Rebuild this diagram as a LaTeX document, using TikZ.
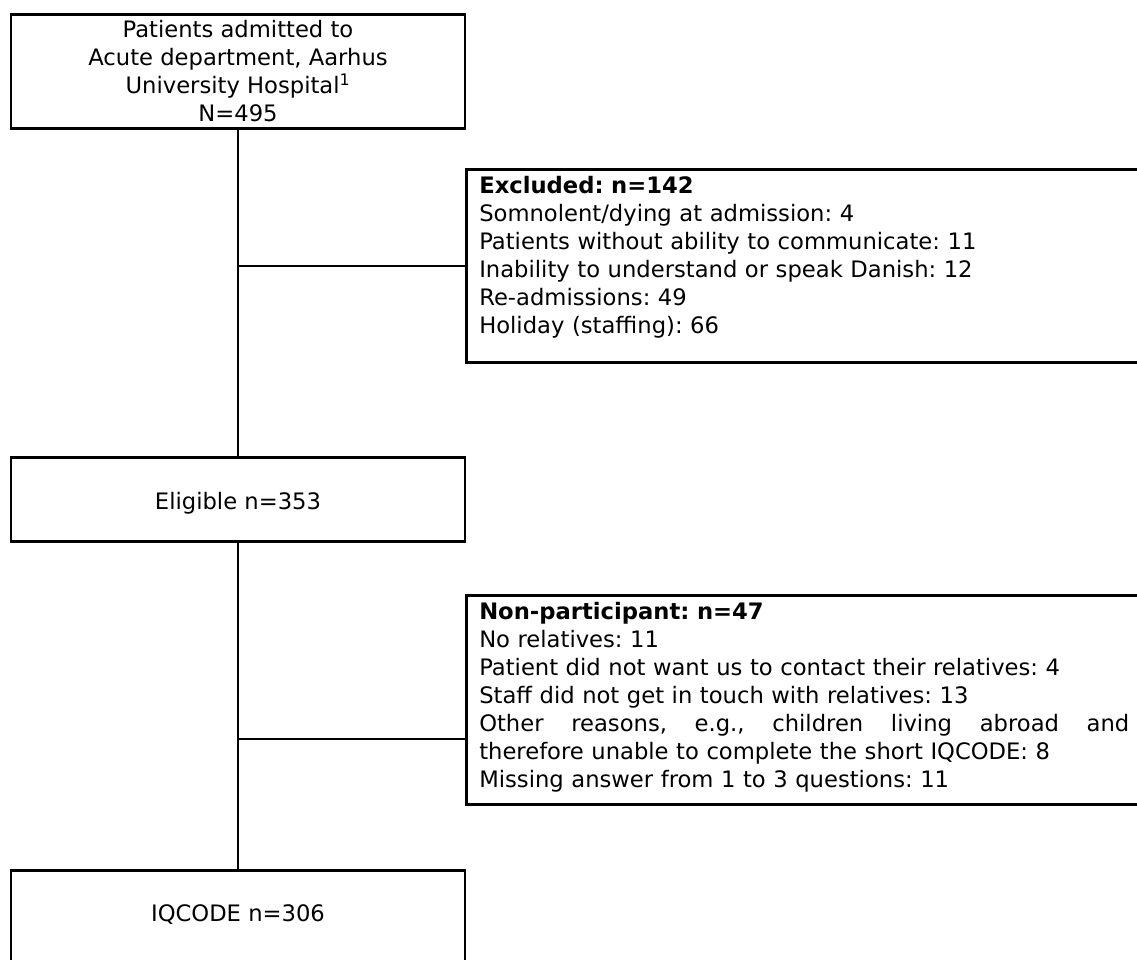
\documentclass[tikz,border=0pt]{standalone}
\usepackage{fontspec}
\setmainfont{DejaVu Sans}
\frenchspacing

\begin{document}
\begin{tikzpicture}[x=0.75pt,y=-0.75pt,
		font=\fontsize{17}{21}\selectfont,
		box/.style={draw,line width=1.9pt,inner sep=0pt,minimum width=340.5pt,align=center,anchor=north},
		sidebox/.style={draw,line width=1.9pt,anchor=north west,inner xsep=9.75pt,inner ysep=0pt,text width=487.5pt,align=left,text height=18pt},
		link/.style={line width=1.6pt}]
			%%%%% START %%%%%
			\clip (0,0) rectangle (1137,959);
			
			\node[box,minimum height=85.5pt] (admitted) at (238,13) {Patients admitted to\\Acute department, Aarhus\\University Hospital\textsuperscript{1}\\N=495};
			
			\node[sidebox,text depth=126.75pt] (excluded) at (465,168) {\textbf{Excluded: n=142}\\
				Somnolent/dying at admission: 4\\
				Patients without ability to communicate: 11\\
				Inability to understand or speak Danish: 12\\
				Re-admissions: 49\\
				Holiday (staffing): 66};
			
			\node[box,text height=39pt,text depth=24pt] (eligible) at (238,456) {Eligible n=353};
			
			\node[sidebox,text depth=138.75pt] (nonpart) at (465,594) {\textbf{Non-participant: n=47}\\
				No relatives: 11\\
				Patient did not want us to contact their relatives: 4\\
				Staff did not get in touch with relatives: 13\\
				\leavevmode\hbox to 487.5pt{Other\hfill reasons,\hfill e.g.,\hfill children\hfill living\hfill abroad\hfill and}\\
				therefore unable to complete the short IQCODE: 8\\
				Missing answer from 1 to 3 questions: 11};
			
			\node[box,text height=38.25pt,text depth=60pt] (iqcode) at (238,869) {IQCODE n=306};
			
			\coordinate (nonjoin) at (465,739);
			
			\draw[link] (admitted.south) -- (eligible.north);
			\draw[link] (admitted.south |- excluded.west) -- (excluded.west);
			\draw[link] (eligible.south) -- (iqcode.north);
			\draw[link] (eligible.south |- nonjoin) -- (nonjoin);
			
			%%%%% END %%%%%
\end{tikzpicture}
\end{document}
